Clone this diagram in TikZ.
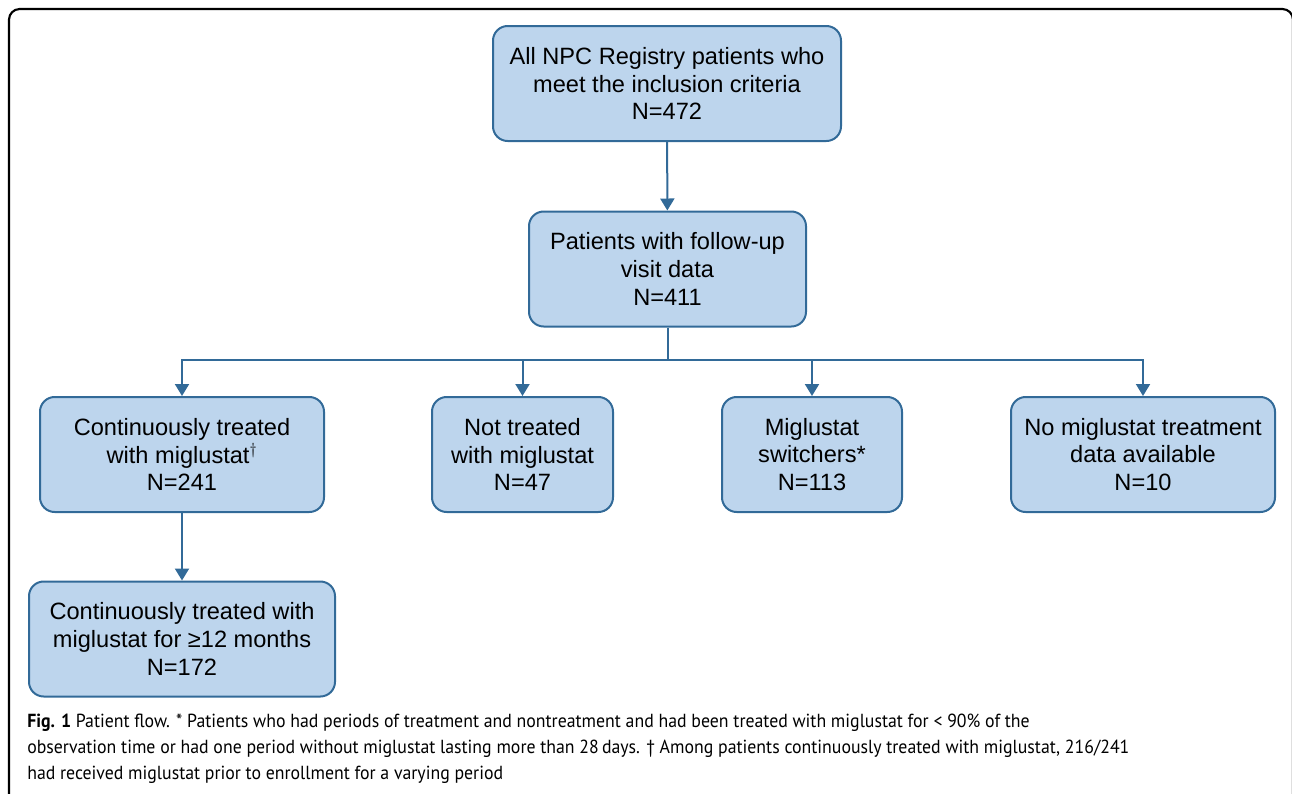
\documentclass[tikz,border=0pt]{standalone}
\usepackage{fontspec}
\setmainfont{Liberation Sans}
\newfontfamily\capfont[FakeStretch=0.94]{PT Sans}
\usepackage{xcolor}
\usetikzlibrary{arrows.meta}

\definecolor{boxfill}{RGB}{189,213,237}
\definecolor{boxline}{RGB}{50,106,152}

\tikzset{
  flowbox/.style={draw=boxline, fill=boxfill, line width=1.5pt, rounded corners=11pt,
    align=center, minimum height=86.25pt, inner sep=0pt,
    font=\fontsize{17.7}{20.8}\selectfont},
  flowarrow/.style={draw=boxline, line width=1.5pt, -{Triangle[width=10.5pt,length=9pt]}},
  flowline/.style={draw=boxline, line width=1.5pt}
}

\begin{document}
\begin{tikzpicture}[x=0.75pt,y=0.75pt,yscale=-1,xscale=1]
\useasboundingbox (0,0) rectangle (1292,793);
\clip (0,0) rectangle (1292,793);

%Outer frame
\draw [line width=1.6pt, rounded corners=8pt] (9,840) -- (9,9) -- (1293,9) -- (1293,840);

% Nodes
\node [flowbox, minimum width=261pt] (allpat) at (667,83.5) {All NPC Registry patients who\\meet the inclusion criteria\\N=472};
\node [flowbox, minimum width=207.75pt] (followup) at (667.5,269) {Patients with follow-up\\visit data\\N=411};
\node [flowbox, minimum width=213pt] (contin) at (182,454.5) {Continuously treated\\with miglustat$^{\dagger}$\\N=241};
\node [flowbox, minimum width=135.75pt] (nottreat) at (522.5,454.5) {Not treated\\with miglustat\\N=47};
\node [flowbox, minimum width=135pt] (switch) at (812,454.5) {Miglustat\\switchers*\\N=113};
\node [flowbox, minimum width=198pt] (nodata) at (1143,454.5) {No miglustat treatment\\data available\\N=10};
\node [flowbox, minimum width=229.5pt] (twelve) at (182,639) {Continuously treated with\\miglustat for ≥12 months\\N=172};

% Connectors
\coordinate (split) at (667.5,360);
\draw [flowarrow] (allpat) -- (followup);
\draw [flowline] (followup) -- (split);
\draw [flowarrow] (split) -| (contin.north);
\draw [flowarrow] (split) -| (nottreat.north);
\draw [flowarrow] (split) -| (switch.north);
\draw [flowarrow] (split) -| (nodata.north);
\draw [flowarrow] (contin) -- (twelve);

% Caption
\node [anchor=north west, inner sep=0pt, align=left, font=\capfont\fontsize{14.2}{19.5}\selectfont] (caption) at (27,714)
  {\textbf{Fig. 1} Patient flow. * Patients who had periods of treatment and nontreatment and had been treated with miglustat for < 90\% of the\\
   observation time or had one period without miglustat lasting more than 28\,days. † Among patients continuously treated with miglustat, 216/241\\
   had received miglustat prior to enrollment for a varying period};
\end{tikzpicture}
\end{document}
